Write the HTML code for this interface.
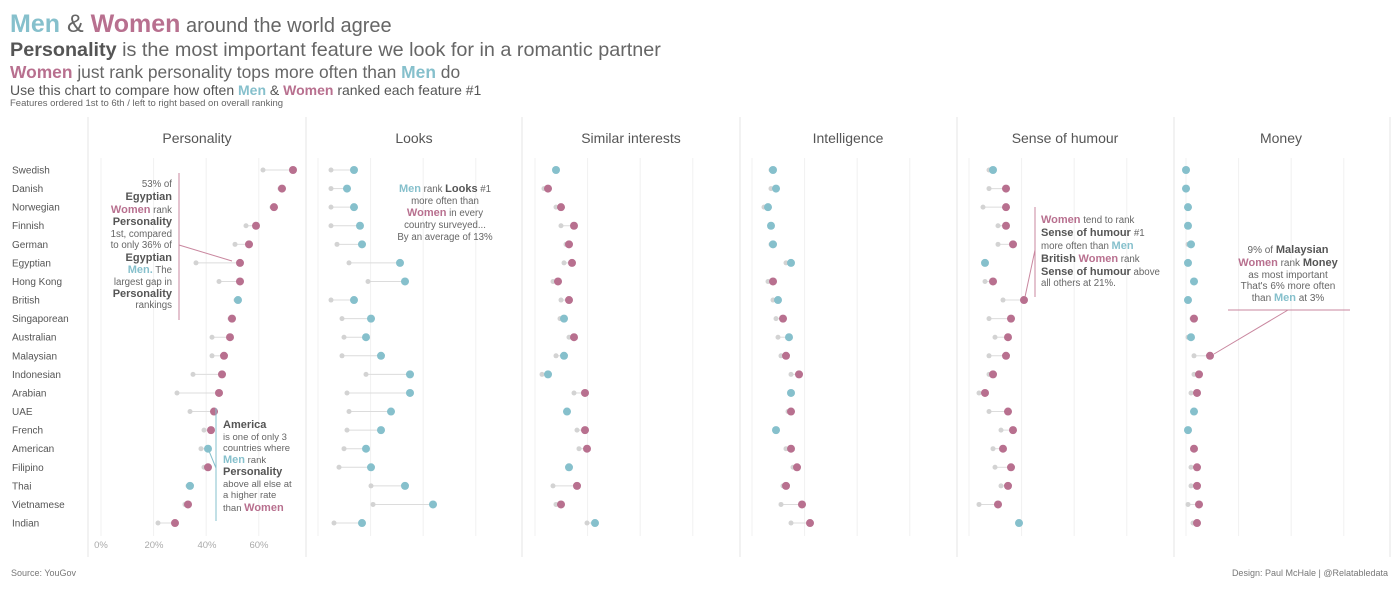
<!DOCTYPE html>
<html><head><meta charset="utf-8"><style>
body{margin:0;background:#fff;width:1399px;height:589px;overflow:hidden;font-family:"Liberation Sans",sans-serif}
svg text{font-family:"Liberation Sans",sans-serif}
.t{fill:#86c0cc}.p{fill:#b8708f}.b{font-weight:bold;fill:#555}
</style></head><body>
<svg id="s" width="1399" height="589" xmlns="http://www.w3.org/2000/svg">
<text x="10" y="32" font-size="25" fill="#666"><tspan class="t" font-weight="bold">Men</tspan> &amp; <tspan class="p" font-weight="bold">Women</tspan><tspan font-size="20"> around the world agree</tspan></text>
<text x="10" y="56" font-size="19.8" fill="#666"><tspan font-weight="bold" fill="#555">Personality</tspan> is the most important feature we look for in a romantic partner</text>
<text x="10" y="78" font-size="17.4" fill="#666"><tspan class="p" font-weight="bold">Women</tspan> just rank personality tops more often than <tspan class="t" font-weight="bold">Men</tspan> do</text>
<text x="10" y="95" font-size="14" fill="#555">Use this chart to compare how often <tspan class="t" font-weight="bold">Men</tspan> &amp; <tspan class="p" font-weight="bold">Women</tspan> ranked each feature #1</text>
<text x="10" y="106" font-size="9.5" fill="#666">Features ordered 1st to 6th / left to right based on overall ranking</text>
<g id="g"></g>
<g font-size="14" fill="#555" text-anchor="middle">
<text x="197" y="143">Personality</text><text x="414" y="143">Looks</text><text x="631" y="143">Similar interests</text><text x="848" y="143">Intelligence</text><text x="1065" y="143">Sense of humour</text><text x="1281" y="143">Money</text></g>
<g font-size="9.5" fill="#aaa" text-anchor="middle"><text x="101" y="548">0%</text><text x="154" y="548">20%</text><text x="207" y="548">40%</text><text x="259" y="548">60%</text></g>
<text x="11" y="576" font-size="9" fill="#777">Source: YouGov</text>
<text x="1388" y="576" font-size="9" fill="#777" text-anchor="end">Design: Paul McHale | @Relatabledata</text>
<g stroke="#c9879f" stroke-width="1" fill="none"><path d="M179 173V320M179 245L232 261"/><path d="M1035 207V297M1035 250L1025 297"/><path d="M1228 310H1350M1288 310L1214 354"/></g>
<path d="M216 408V521M216 468L209 451" stroke="#86c0cc" stroke-width="1" fill="none"/>
<g font-size="9.7" fill="#666" text-anchor="end">
<text x="172" y="187">53% of</text><text x="172" y="200" class="b" font-size="11">Egyptian</text>
<text x="172" y="213"><tspan class="p" font-weight="bold" font-size="11">Women</tspan> rank</text>
<text x="172" y="225" class="b" font-size="11">Personality</text><text x="172" y="237">1st, compared</text><text x="172" y="248">to only 36% of</text>
<text x="172" y="261" class="b" font-size="11">Egyptian</text>
<text x="172" y="273"><tspan class="t" font-weight="bold" font-size="11">Men.</tspan> The</text>
<text x="172" y="285">largest gap in</text><text x="172" y="297" class="b" font-size="11">Personality</text><text x="172" y="308">rankings</text></g>
<g font-size="9.7" fill="#666" text-anchor="middle">
<text x="445" y="192"><tspan class="t" font-weight="bold" font-size="11">Men</tspan> rank <tspan class="b" font-size="11">Looks</tspan> #1</text>
<text x="445" y="204">more often than</text>
<text x="445" y="216"><tspan class="p" font-weight="bold" font-size="11">Women</tspan> in every</text>
<text x="445" y="228">country surveyed...</text><text x="445" y="240">By an average of 13%</text></g>
<g font-size="9.5" fill="#666">
<text x="223" y="428" class="b" font-size="11">America</text><text x="223" y="440">is one of only 3</text><text x="223" y="451">countries where</text>
<text x="223" y="463"><tspan class="t" font-weight="bold" font-size="11">Men</tspan> rank</text>
<text x="223" y="475" class="b" font-size="11">Personality</text><text x="223" y="487">above all else at</text><text x="223" y="498">a higher rate</text>
<text x="223" y="511">than <tspan class="p" font-weight="bold" font-size="11">Women</tspan></text></g>
<g font-size="9.7" fill="#666">
<text x="1041" y="223"><tspan class="p" font-weight="bold" font-size="11">Women</tspan> tend to rank</text>
<text x="1041" y="236" class="b" font-size="11">Sense of humour <tspan font-weight="normal" fill="#666" font-size="9.7">#1</tspan></text>
<text x="1041" y="249">more often than <tspan class="t" font-weight="bold" font-size="11">Men</tspan></text>
<text x="1041" y="262"><tspan class="b" font-size="11">British</tspan> <tspan class="p" font-weight="bold" font-size="11">Women</tspan> rank</text>
<text x="1041" y="275"><tspan class="b" font-size="11">Sense of humour</tspan> above</text>
<text x="1041" y="286">all others at 21%.</text></g>
<g font-size="10" fill="#666" text-anchor="middle">
<text x="1288" y="253">9% of <tspan class="b" font-size="11">Malaysian</tspan></text>
<text x="1288" y="266"><tspan class="p" font-weight="bold" font-size="11">Women</tspan> rank <tspan class="b" font-size="11">Money</tspan></text>
<text x="1288" y="278">as most important</text><text x="1288" y="289">That's 6% more often</text>
<text x="1288" y="301">than <tspan class="t" font-weight="bold" font-size="11">Men</tspan> at 3%</text></g>
</svg>
<script>
var NS="http://www.w3.org/2000/svg",g=document.getElementById('g');
function el(n,a){var e=document.createElementNS(NS,n);for(var k in a)e.setAttribute(k,a[k]);g.appendChild(e);return e;}
var names=["Swedish","Danish","Norwegian","Finnish","German","Egyptian","Hong Kong","British","Singaporean","Australian","Malaysian","Indonesian","Arabian","UAE","French","American","Filipino","Thai","Vietnamese","Indian"];
[88,306,522,740,957,1174,1390].forEach(function(x){el('line',{x1:x,x2:x,y1:117,y2:557,stroke:'#e6e6e6'});});
for(var p=0;p<6;p++)for(var k=0;k<4;k++){var x=101+p*217+k*52.6;el('line',{x1:x,x2:x,y1:158,y2:536,stroke:'#f1f1f1'});}
var D=[
[[263,293,'p'],[280,282,'p'],[272,274,'p'],[246,256,'p'],[235,249,'p'],[196,240,'p'],[219,240,'p'],[236,238,'t'],[230,232,'p'],[212,230,'p'],[212,224,'p'],[193,222,'p'],[177,219,'p'],[190,214,'p'],[204,211,'p'],[201,208,'t'],[204,208,'p'],[188,190,'t'],[185,188,'p'],[158,175,'p']],
[[331,354,'t'],[331,347,'t'],[331,354,'t'],[331,360,'t'],[337,362,'t'],[349,400,'t'],[368,405,'t'],[331,354,'t'],[342,371,'t'],[344,366,'t'],[342,381,'t'],[366,410,'t'],[347,410,'t'],[349,391,'t'],[347,381,'t'],[344,366,'t'],[339,371,'t'],[371,405,'t'],[373,433,'t'],[334,362,'t']],
[[555,556,'t'],[544,548,'p'],[556,561,'p'],[561,574,'p'],[566,569,'p'],[564,572,'p'],[553,558,'p'],[561,569,'p'],[560,564,'t'],[569,574,'p'],[556,564,'t'],[542,548,'t'],[574,585,'p'],[566,567,'t'],[577,585,'p'],[579,587,'p'],[568,569,'t'],[553,577,'p'],[556,561,'p'],[587,595,'t']],
[[771,773,'t'],[771,776,'t'],[764,768,'t'],[770,771,'t'],[771,773,'t'],[786,791,'t'],[768,773,'p'],[773,778,'t'],[776,783,'p'],[778,789,'t'],[781,786,'p'],[791,799,'p'],[790,791,'t'],[788,791,'p'],[775,776,'t'],[786,791,'p'],[793,797,'p'],[783,786,'p'],[781,802,'p'],[791,810,'p']],
[[989,993,'t'],[989,1006,'p'],[983,1006,'p'],[998,1006,'p'],[998,1013,'p'],[984,985,'t'],[985,993,'p'],[1003,1024,'p'],[989,1011,'p'],[995,1008,'p'],[989,1006,'p'],[989,993,'p'],[979,985,'p'],[989,1008,'p'],[1001,1013,'p'],[993,1003,'p'],[995,1011,'p'],[1001,1008,'p'],[979,998,'p'],[1018,1019,'t']],
[[1185,1186,'t'],[1185,1186,'t'],[1187,1188,'t'],[1187,1188,'t'],[1188,1191,'t'],[1187,1188,'t'],[1193,1194,'t'],[1187,1188,'t'],[1192,1194,'p'],[1188,1191,'t'],[1194,1210,'p'],[1194,1199,'p'],[1191,1197,'p'],[1193,1194,'t'],[1187,1188,'t'],[1193,1194,'p'],[1191,1197,'p'],[1191,1197,'p'],[1188,1199,'p'],[1193,1197,'p']]];
for(var i=0;i<20;i++){var y=170+i*18.58;
 var t=el('text',{x:12,y:y+3.5,'font-size':10,fill:'#555'});t.textContent=names[i];
 D.forEach(function(r){var d=r[i];el('line',{x1:d[0],x2:d[1],y1:y,y2:y,stroke:'#dcdcdc'});el('circle',{cx:d[0],cy:y,r:2.5,fill:'#d3d3d3'});el('circle',{cx:d[1],cy:y,r:4,fill:d[2]=='t'?'#86c0cc':'#b8708f'});});
}
</script>
</body></html>
